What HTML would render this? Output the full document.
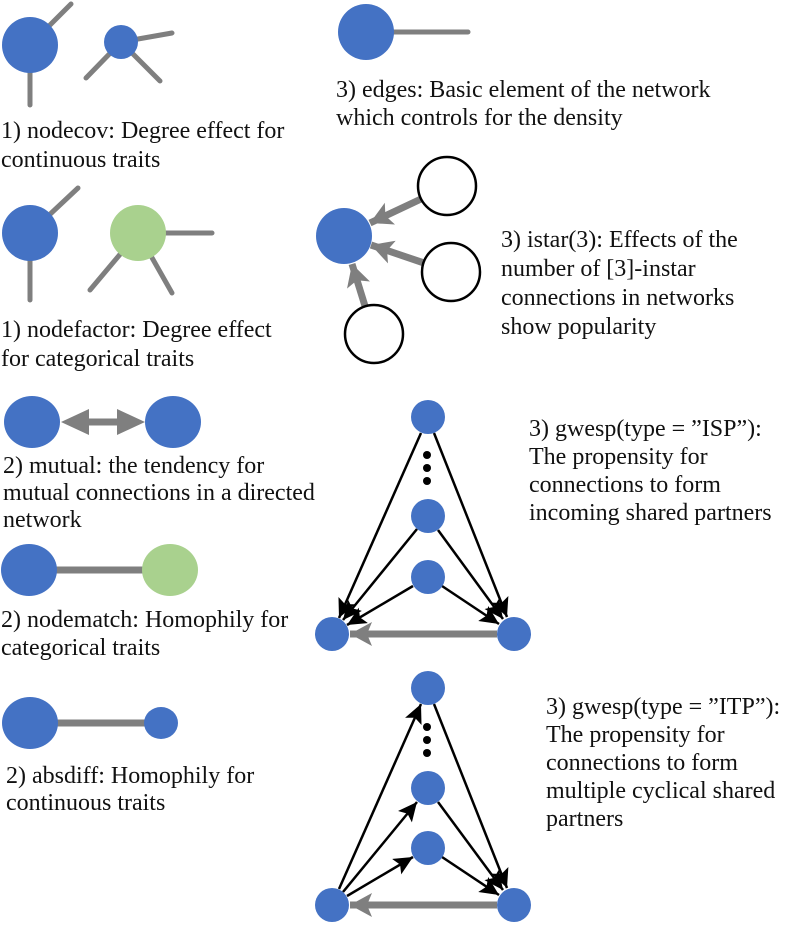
<!DOCTYPE html>
<html><head><meta charset="utf-8"><style>
html,body{margin:0;padding:0;background:#fff;}
svg{display:block;}
text{font-family:"Liberation Serif","Times New Roman",serif;font-size:24px;fill:#111;}
</style></head><body>
<svg width="786" height="927" viewBox="0 0 786 927" xmlns="http://www.w3.org/2000/svg">
<defs>
<marker id="bk" markerUnits="userSpaceOnUse" markerWidth="24" markerHeight="24" refX="19" refY="9" orient="auto"><path d="M0,0 L19,9 L0,18 L4,9 z" fill="#000"/></marker>
<marker id="gy" markerUnits="userSpaceOnUse" markerWidth="30" markerHeight="30" refX="22" refY="12" orient="auto"><path d="M0,0 L22,12 L0,24 L5,12 z" fill="#7f7f7f"/></marker>
</defs>
<g stroke="#7f7f7f" stroke-width="5" stroke-linecap="round">
<line x1="30" y1="45" x2="71" y2="4"/><line x1="30" y1="45" x2="30" y2="105"/>
<line x1="121" y1="42" x2="172" y2="33"/><line x1="121" y1="42" x2="86" y2="78"/><line x1="121" y1="42" x2="160" y2="81"/>
<line x1="30" y1="233" x2="78" y2="188"/><line x1="30" y1="233" x2="30" y2="300"/>
<line x1="138" y1="233" x2="212" y2="233"/><line x1="138" y1="233" x2="90" y2="290"/><line x1="138" y1="233" x2="172" y2="293"/>
<line x1="366" y1="32" x2="468" y2="32"/>
</g>
<g stroke="#7f7f7f" stroke-width="7">
<line x1="29" y1="570" x2="170" y2="570"/>
<line x1="30" y1="723" x2="161" y2="723"/>
</g>
<polygon points="61,422 89,409 89,418.5 117,418.5 117,409 145,422 117,435 117,425.5 89,425.5 89,435" fill="#7f7f7f"/>
<g stroke="#7f7f7f" stroke-width="7">
<line x1="421" y1="199" x2="370" y2="223" marker-end="url(#gy)"/>
<line x1="424" y1="263" x2="371" y2="245" marker-end="url(#gy)"/>
<line x1="365" y1="306" x2="352" y2="264" marker-end="url(#gy)"/>
<line x1="497" y1="634" x2="350" y2="634" marker-end="url(#gy)"/>
<line x1="497" y1="905" x2="350" y2="905" marker-end="url(#gy)"/>
</g>
<g fill="#4472c4">
<circle cx="30" cy="45" r="28"/><circle cx="121" cy="42" r="17"/>
<circle cx="30" cy="233" r="28"/>
<circle cx="366" cy="32" r="28"/>
<circle cx="344" cy="236" r="28"/>
<ellipse cx="32" cy="422" rx="28" ry="26"/><ellipse cx="173" cy="422" rx="28" ry="26"/>
<ellipse cx="29" cy="570" rx="28" ry="26"/>
<ellipse cx="30" cy="723" rx="28" ry="26"/><ellipse cx="161" cy="723" rx="17" ry="16"/>
</g>
<g fill="#a9d18e"><circle cx="138" cy="233" r="28"/><ellipse cx="170" cy="570" rx="28" ry="26"/></g>
<g fill="#fff" stroke="#000" stroke-width="2.5">
<circle cx="447" cy="186" r="29"/><circle cx="451" cy="272" r="29"/><circle cx="374" cy="334" r="29"/>
</g>
<g stroke="#000" stroke-width="2.5">
<line x1="421" y1="433" x2="339" y2="618" marker-end="url(#bk)"/>
<line x1="434" y1="433" x2="507" y2="617" marker-end="url(#bk)"/>
<line x1="417" y1="529" x2="343" y2="620" marker-end="url(#bk)"/>
<line x1="438" y1="530" x2="503" y2="619" marker-end="url(#bk)"/>
<line x1="413" y1="586" x2="347" y2="625" marker-end="url(#bk)"/>
<line x1="442" y1="586" x2="499" y2="624" marker-end="url(#bk)"/>
<line x1="339" y1="889" x2="421" y2="704" marker-end="url(#bk)"/>
<line x1="343" y1="892" x2="417" y2="802" marker-end="url(#bk)"/>
<line x1="347" y1="896" x2="413" y2="857" marker-end="url(#bk)"/>
<line x1="434" y1="704" x2="507" y2="888" marker-end="url(#bk)"/>
<line x1="438" y1="802" x2="503" y2="890" marker-end="url(#bk)"/>
<line x1="442" y1="857" x2="499" y2="895" marker-end="url(#bk)"/>
</g>
<g fill="#4472c4">
<circle cx="428" cy="417" r="17"/><circle cx="428" cy="516" r="17"/><circle cx="428" cy="577" r="17"/>
<circle cx="332" cy="634" r="17"/><circle cx="514" cy="634" r="17"/>
<circle cx="428" cy="688" r="17"/><circle cx="428" cy="788" r="17"/><circle cx="428" cy="848" r="17"/>
<circle cx="332" cy="905" r="17"/><circle cx="514" cy="905" r="17"/>
</g>
<g fill="#000">
<circle cx="427" cy="455" r="4"/><circle cx="427" cy="468" r="4"/><circle cx="427" cy="481" r="4"/>
<circle cx="427" cy="727" r="4"/><circle cx="427" cy="740" r="4"/><circle cx="427" cy="753" r="4"/>
</g>
<text x="1" y="138">1) nodecov: Degree effect for</text>
<text x="1" y="167">continuous traits</text>
<text x="1" y="337">1) nodefactor: Degree effect</text>
<text x="1" y="366">for categorical traits</text>
<text x="3" y="473">2) mutual: the tendency for</text>
<text x="3" y="500">mutual connections in a directed</text>
<text x="3" y="527">network</text>
<text x="1" y="627">2) nodematch: Homophily for</text>
<text x="1" y="655">categorical traits</text>
<text x="6" y="783">2) absdiff: Homophily for</text>
<text x="6" y="810">continuous traits</text>
<text x="336" y="97">3) edges: Basic element of the network</text>
<text x="336" y="125">which controls for the density</text>
<text x="501" y="247">3) istar(3): Effects of the</text>
<text x="501" y="276">number of [3]-instar</text>
<text x="501" y="305">connections in networks</text>
<text x="501" y="334">show popularity</text>
<text x="529" y="436">3) gwesp(type = ”ISP”):</text>
<text x="529" y="464">The propensity for</text>
<text x="529" y="492">connections to form</text>
<text x="529" y="520">incoming shared partners</text>
<text x="546" y="714">3) gwesp(type = ”ITP”):</text>
<text x="546" y="742">The propensity for</text>
<text x="546" y="770">connections to form</text>
<text x="546" y="798">multiple cyclical shared</text>
<text x="546" y="826">partners</text>
</svg>
</body></html>
